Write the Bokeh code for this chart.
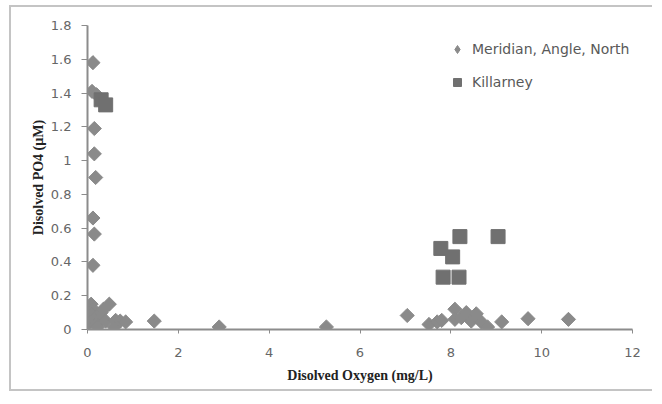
import math
from bokeh.plotting import figure
from bokeh.models import Range1d, Legend, LegendItem, FixedTicker
from bokeh.embed import file_html
from bokeh.resources import INLINE

# Meridian, Angle, North (diamonds)
meridian_do = [0.12, 0.10, 0.20, 0.15, 0.15, 0.18, 0.12, 0.15, 0.12,
               0.08, 0.12, 0.10, 0.15, 0.05, 0.20, 0.22, 0.30, 0.35, 0.48,
               0.40, 0.62, 0.59, 0.72, 0.84, 1.47, 2.90, 5.26,
               7.04, 7.52, 7.70, 7.80, 8.09, 8.09, 8.23, 8.34, 8.45, 8.56,
               8.67, 8.81, 9.12, 9.70, 10.59]
meridian_p = [1.58, 1.41, 1.39, 1.19, 1.04, 0.90, 0.66, 0.565, 0.38,
              0.15, 0.12, 0.09, 0.06, 0.04, 0.03, 0.015, 0.10, 0.12, 0.15,
              0.05, 0.054, 0.015, 0.05, 0.045, 0.05, 0.015, 0.015,
              0.083, 0.03, 0.045, 0.054, 0.12, 0.06, 0.07, 0.10, 0.05, 0.093,
              0.045, 0.015, 0.045, 0.064, 0.06]

# Killarney (squares)
killarney_do = [0.30, 0.40, 7.78, 8.20, 8.04, 7.83, 8.18, 9.04]
killarney_p = [1.36, 1.33, 0.48, 0.55, 0.43, 0.31, 0.31, 0.55]

x_ticks = [0, 2, 4, 6, 8, 10, 12]
y_ticks = [0, 0.2, 0.4, 0.6, 0.8, 1.0, 1.2, 1.4, 1.6, 1.8]
y_tick_labels = {0: "0", 0.2: "0.2", 0.4: "0.4", 0.6: "0.6", 0.8: "0.8",
                 1.0: "1", 1.2: "1.2", 1.4: "1.4", 1.6: "1.6", 1.8: "1.8"}

p = figure(width=643, height=386, output_backend="svg", toolbar_location=None,
           x_range=Range1d(0, 12), y_range=Range1d(0, 1.8),
           min_border_left=76, min_border_right=22, min_border_top=18,
           min_border_bottom=64)
p.styles = {"margin-left": "9px", "margin-top": "5px",
            "border-left": "2px solid #c4c4c4", "border-top": "2px solid #c4c4c4",
            "border-bottom": "2px solid #c4c4c4"}
p.outline_line_color = None
p.xgrid.visible = False
p.ygrid.visible = False
p.background_fill_color = "white"
p.border_fill_color = "white"

# legend proxy (a diamond drawn beneath the first Meridian point)
r1_leg = p.scatter(meridian_do[:1], meridian_p[:1], marker="diamond", size=13,
                   fill_color="#8a8a8a", line_color="#8a8a8a")
r1 = p.scatter(meridian_do, meridian_p, marker="square", size=10, angle=math.pi / 4,
               fill_color="#8a8a8a", line_color="#8a8a8a")
r2 = p.scatter(killarney_do, killarney_p, marker="square", size=14,
               fill_color="#707070", line_color="#707070")

axis_color = "#8c8c8c"
label_color = "#666666"
for ax in (p.xaxis[0], p.yaxis[0]):
    ax.axis_line_color = axis_color
    ax.axis_line_width = 2
    ax.major_tick_line_color = axis_color
    ax.major_tick_line_width = 1
    ax.minor_tick_line_color = None
    ax.major_tick_in = 0
    ax.major_label_text_color = label_color
    ax.major_label_text_font = "DejaVu Sans"
    ax.major_label_text_font_size = "13px"

p.xaxis.ticker = FixedTicker(ticks=x_ticks)
p.yaxis.ticker = FixedTicker(ticks=y_ticks)
p.yaxis.major_label_overrides = y_tick_labels
p.xaxis.major_tick_out = 4
p.yaxis.major_tick_out = 6
p.xaxis.major_label_standoff = 14
p.yaxis.major_label_standoff = 10

p.xaxis.axis_label = "Disolved Oxygen (mg/L)"
p.xaxis.axis_label_text_font = "Liberation Serif"
p.xaxis.axis_label_text_font_style = "bold"
p.xaxis.axis_label_text_font_size = "14px"
p.xaxis.axis_label_text_color = "#222222"
p.xaxis.axis_label_standoff = 8

p.yaxis.axis_label = "Disolved PO4 (µM)"
p.yaxis.axis_label_text_font = "Liberation Serif"
p.yaxis.axis_label_text_font_style = "bold"
p.yaxis.axis_label_text_font_size = "14px"
p.yaxis.axis_label_text_color = "#222222"
p.yaxis.axis_label_standoff = 2

legend = Legend(items=[LegendItem(label="Meridian, Angle, North", renderers=[r1_leg]),
                       LegendItem(label="Killarney", renderers=[r2])],
                location=(360, 237), padding=0, margin=0, spacing=13,
                glyph_width=20, glyph_height=20, label_standoff=5,
                border_line_color=None, background_fill_alpha=0,
                label_text_font="DejaVu Sans", label_text_font_size="14px",
                label_text_color="#595959")
p.add_layout(legend, "center")

open("out.html", "w").write(file_html(p, INLINE))
